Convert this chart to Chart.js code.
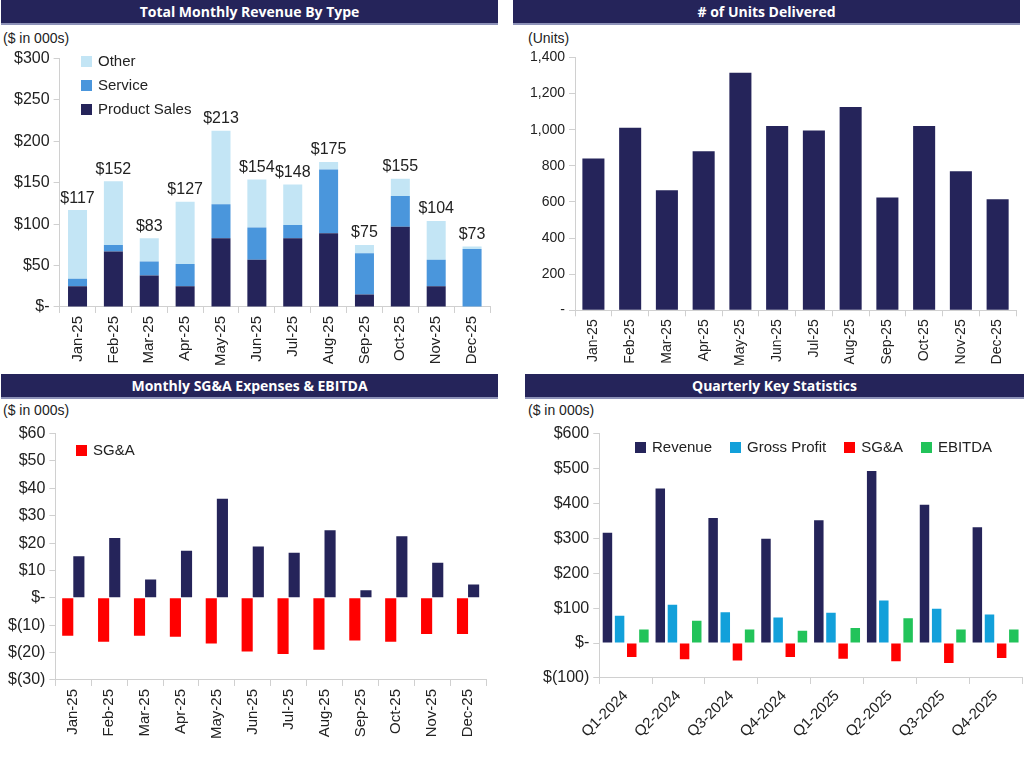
<!DOCTYPE html>
<html>
<head>
<meta charset="utf-8">
<script src="https://cdn.jsdelivr.net/npm/chart.js@4.4.1/dist/chart.umd.min.js"></script>
<style>
  body { margin: 0; width: 1024px; height: 762px; background: #fff; position: relative; overflow: hidden; font-family: "Liberation Sans", Arial, sans-serif; }
  .bar { position: absolute; height: 23px; background: #25245a; color: #fff; font: bold 14px "Open Sans", sans-serif; text-align: center; line-height: 23px; border-bottom: 2px solid #8d92b8; }
  .unit { position: absolute; font-size: 14px; color: #222; }
  .cv { position: absolute; }
  .lg { position: absolute; font-size: 15px; color: #222; white-space: nowrap; }
  .lg span.sw { display: inline-block; width: 11px; height: 11px; margin-right: 6px; vertical-align: -1px; }
  .lg div { margin-bottom: 7px; }
  .lgh span.it { margin-right: 18px; }
</style>
</head>
<body>
<div class="bar" style="left:1px;top:0;width:497px">Total Monthly Revenue By Type</div>
<div class="bar" style="left:513px;top:0;width:507px"># of Units Delivered</div>
<div class="bar" style="left:1px;top:374px;width:497px">Monthly SG&amp;A Expenses &amp; EBITDA</div>
<div class="bar" style="left:525px;top:374px;width:499px">Quarterly Key Statistics</div>

<div class="unit" style="left:3px;top:30px">($ in 000s)</div>
<div class="unit" style="left:528px;top:30px">(Units)</div>
<div class="unit" style="left:3px;top:402px">($ in 000s)</div>
<div class="unit" style="left:528px;top:402px">($ in 000s)</div>

<canvas id="c1" class="cv" style="left:0;top:45px" width="498" height="330"></canvas>
<canvas id="c2" class="cv" style="left:512px;top:45px" width="510" height="330"></canvas>
<canvas id="c3" class="cv" style="left:0;top:420px" width="498" height="342"></canvas>
<canvas id="c4" class="cv" style="left:525px;top:420px" width="499" height="342"></canvas>

<div class="lg" style="left:81px;top:52px">
  <div><span class="sw" style="background:#c3e5f5"></span>Other</div>
  <div><span class="sw" style="background:#4a96dc"></span>Service</div>
  <div><span class="sw" style="background:#25245a"></span>Product Sales</div>
</div>
<div class="lg" style="left:76px;top:441px">
  <div><span class="sw" style="background:#ff0000"></span>SG&amp;A</div>
</div>
<div class="lg lgh" style="left:635px;top:438px">
  <span class="it"><span class="sw" style="background:#25245a"></span>Revenue</span><span class="it"><span class="sw" style="background:#12a0da"></span>Gross Profit</span><span class="it"><span class="sw" style="background:#ff0000"></span>SG&amp;A</span><span class="it" style="margin-right:0"><span class="sw" style="background:#22c35a"></span>EBITDA</span>
</div>

<script>
const months = ["Jan-25","Feb-25","Mar-25","Apr-25","May-25","Jun-25","Jul-25","Aug-25","Sep-25","Oct-25","Nov-25","Dec-25"];
const productSales = [25, 67, 38, 25, 83, 57, 83, 89, 15, 97, 25, 0];
const service = [9, 8, 17, 27, 41, 39, 16, 77, 50, 37, 32, 70];
const other = [83, 77, 28, 75, 89, 58, 49, 9, 10, 21, 47, 3];
const totalRevenue = [117, 152, 83, 127, 213, 154, 148, 175, 75, 155, 104, 73];

const unitsDelivered = [840, 1010, 665, 880, 1315, 1020, 995, 1125, 625, 1020, 770, 615];

const monthlySGA = [-13.8, -16, -13.8, -14.2, -16.7, -19.6, -20.5, -19, -15.6, -16, -13.2, -13.2];
const monthlyEBITDA = [15.2, 21.9, 6.7, 17.2, 36.2, 18.8, 16.5, 24.7, 2.8, 22.5, 12.8, 4.9];

const quarters = ["Q1-2024","Q2-2024","Q3-2024","Q4-2024","Q1-2025","Q2-2025","Q3-2025","Q4-2025"];
const qRevenue = [316, 443, 358, 299, 352, 493, 396, 332];
const qGrossProfit = [78, 110, 88, 73, 87, 122, 98, 82];
const qSGA = [-40, -46, -50, -40, -45, -52, -57, -43];
const qEBITDA = [39, 64, 39, 35, 43, 71, 39, 39];

const NAVY = "#25245a";
const AXIS = "#d0d0d0";
const TXT = "#222";
const FONT = "'Liberation Sans', Arial, sans-serif";

Chart.defaults.font.family = FONT;
Chart.defaults.color = TXT;
Chart.defaults.animation = false;

const money = v => v === 0 ? "$-" : v < 0 ? "$(" + Math.abs(v) + ")" : "$" + v;

function xAxis(size, rot) {
  return {
    stacked: false,
    grid: { display: true, drawOnChartArea: false, color: AXIS, tickLength: 6, offset: true },
    border: { color: AXIS },
    ticks: { font: { size: size }, maxRotation: rot, minRotation: rot, autoSkip: false, color: TXT }
  };
}
function yAxis(min, max, step, size, fmt) {
  return {
    min: min, max: max,
    grid: { display: true, drawOnChartArea: false, color: AXIS, tickLength: 6 },
    border: { color: AXIS },
    ticks: { stepSize: step, font: { size: size }, callback: fmt, color: TXT, padding: 4 }
  };
}
const base = { responsive: false, plugins: { legend: { display: false }, tooltip: { enabled: false } } };

// totals above the stacked revenue bars
const totalLabels = {
  id: "totalLabels",
  afterDatasetsDraw(chart) {
    const ctx = chart.ctx;
    const meta = chart.getDatasetMeta(2);
    ctx.save();
    ctx.font = "16px " + FONT;
    ctx.fillStyle = TXT;
    ctx.textAlign = "center";
    ctx.textBaseline = "bottom";
    meta.data.forEach((bar, i) => {
      ctx.fillText("$" + totalRevenue[i], bar.x, bar.y - 4);
    });
    ctx.restore();
  }
};

new Chart(document.getElementById("c1"), {
  type: "bar",
  data: {
    labels: months,
    datasets: [
      { data: productSales, backgroundColor: NAVY },
      { data: service, backgroundColor: "#4a96dc" },
      { data: other, backgroundColor: "#c3e5f5" }
    ]
  },
  options: {
    ...base,
    layout: { padding: { top: 8, right: 8, left: 10, bottom: 6 } },
    datasets: { bar: { categoryPercentage: 1, barPercentage: 0.53 } },
    scales: {
      x: { ...xAxis(15, 90), stacked: true },
      y: { ...yAxis(0, 300, 50, 16, money), stacked: true }
    }
  },
  plugins: [totalLabels]
});

new Chart(document.getElementById("c2"), {
  type: "bar",
  data: { labels: months, datasets: [{ data: unitsDelivered, backgroundColor: NAVY }] },
  options: {
    ...base,
    layout: { padding: { top: 12, right: 6, left: 14, bottom: 6 } },
    datasets: { bar: { categoryPercentage: 1, barPercentage: 0.6 } },
    scales: {
      x: xAxis(14, 90),
      y: yAxis(0, 1400, 200, 14, v => v === 0 ? "-" : v.toLocaleString("en-US"))
    }
  }
});

new Chart(document.getElementById("c3"), {
  type: "bar",
  data: {
    labels: months,
    datasets: [
      { data: monthlySGA, backgroundColor: "#ff0000" },
      { data: monthlyEBITDA, backgroundColor: NAVY }
    ]
  },
  options: {
    ...base,
    layout: { padding: { top: 12, right: 12, left: 4, bottom: 20 } },
    datasets: { bar: { categoryPercentage: 0.62, barPercentage: 1 } },
    scales: {
      x: { ...xAxis(15, 90), position: "bottom" },
      y: yAxis(-30, 60, 10, 16, money)
    }
  }
});

new Chart(document.getElementById("c4"), {
  type: "bar",
  data: {
    labels: quarters,
    datasets: [
      { data: qRevenue, backgroundColor: NAVY },
      { data: qGrossProfit, backgroundColor: "#12a0da" },
      { data: qSGA, backgroundColor: "#ff0000" },
      { data: qEBITDA, backgroundColor: "#22c35a" }
    ]
  },
  options: {
    ...base,
    layout: { padding: { top: 12, right: 2, left: 14, bottom: 18 } },
    datasets: { bar: { categoryPercentage: 0.92, barPercentage: 0.78 } },
    scales: {
      x: xAxis(15, 45),
      y: yAxis(-100, 600, 100, 16, money)
    }
  }
});
</script>
</body>
</html>
